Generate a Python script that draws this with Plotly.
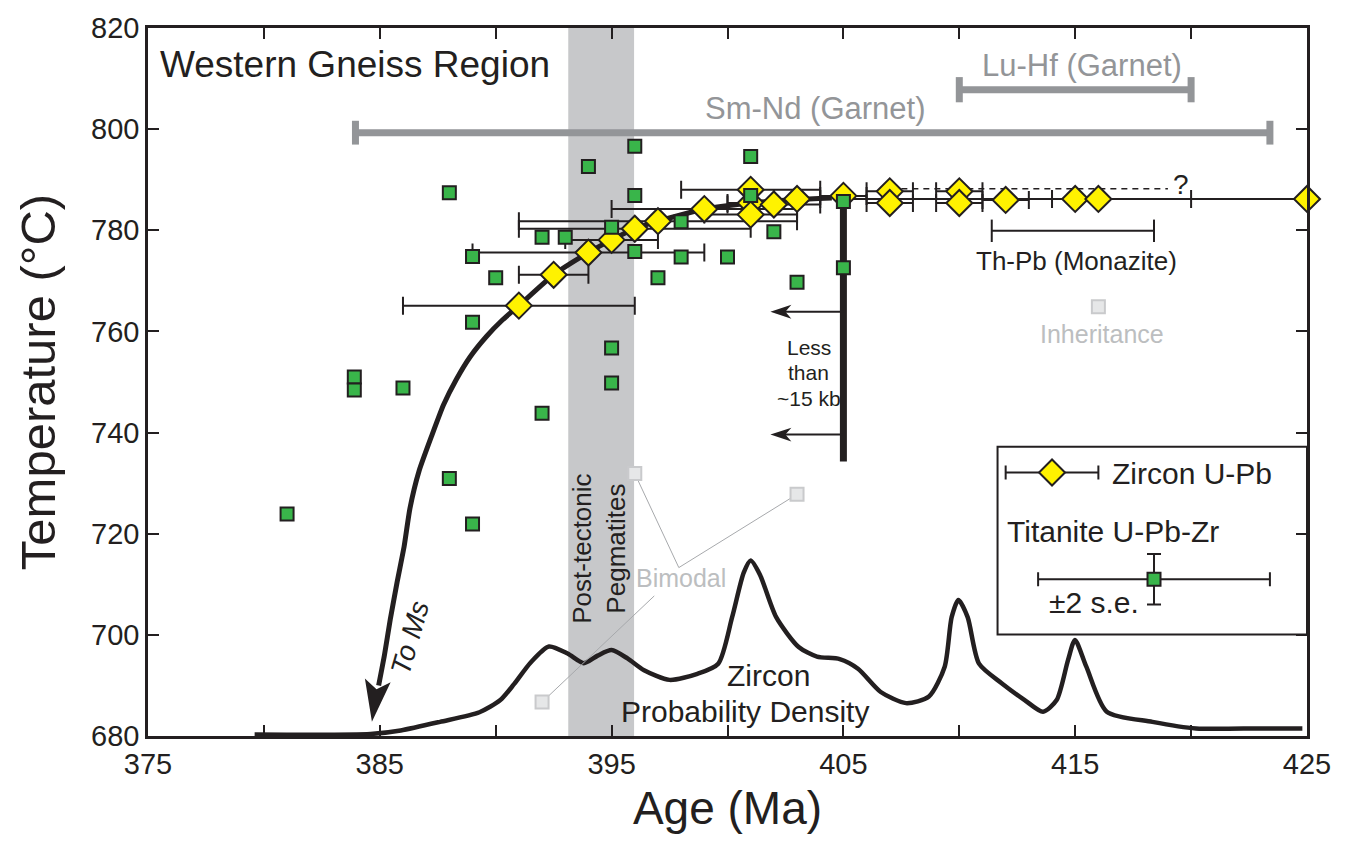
import math
import plotly.graph_objects as go

# ---------------- data ----------------
zircon_age = [391.0, 392.5, 394.0, 395.0, 396.0, 397.0, 399.0, 401.0, 401.0, 401.0,
              402.0, 403.0, 405.0, 407.0, 407.0, 410.0, 410.0, 412.0, 415.0, 416.0, 425.0]
zircon_temp = [765.1, 771.2, 775.6, 778.1, 780.3, 781.8, 784.2, 788.0, 785.4, 783.1,
               785.1, 786.2, 786.8, 787.7, 785.4, 787.7, 785.4, 786.0, 786.2, 786.2, 786.2]
zircon_err = [5.0, 1.5, 5.0, 2.0, 5.0, 6.0, 4.0, 3.0, 1.0, 2.0,
              2.0, 1.0, 1.0, 1.0, 1.0, 1.0, 1.0, 1.0, 1.0, 4.0, 20.0]

titanite_age = [381.0, 383.9, 383.9, 386.0, 388.0, 388.0, 389.0, 389.0, 389.0, 390.0,
                392.0, 392.0, 393.0, 394.0, 395.0, 395.0, 395.0, 396.0, 396.0, 396.0,
                397.0, 398.0, 398.0, 400.0, 401.0, 401.0, 402.0, 403.0, 405.0, 405.0]
titanite_temp = [723.9, 751.0, 748.4, 748.8, 787.4, 730.9, 774.8, 721.9, 761.8, 770.6,
                 778.6, 743.8, 778.6, 792.6, 780.6, 756.7, 749.8, 796.6, 786.9, 775.8,
                 770.6, 781.7, 774.7, 774.7, 794.6, 786.9, 779.7, 769.7, 785.7, 772.6]

# excluded titanite analyses (bimodal / inheritance)
excluded_age = [392.0, 396.0, 403.0, 416.0]
excluded_temp = [686.7, 731.9, 727.8, 764.9]

# T-t path through zircon data ("To Ms")
path_age = [384.95, 385.2, 385.45, 385.75, 386.05, 386.3, 386.7, 387.25, 387.75, 388.3,
            388.9, 389.6, 390.3, 391.0, 392.5, 394.0, 395.0, 396.0, 397.0, 399.0,
            401.0, 403.0, 404.5]
path_temp = [690.0, 696.0, 703.0, 710.5, 717.5, 725.0, 732.5, 739.5, 745.5, 750.5,
             755.0, 759.0, 762.3, 765.1, 771.2, 775.6, 778.1, 780.3, 781.8, 784.2,
             785.4, 786.1, 786.4]

# zircon probability density curve (plotted on temperature scale)
density_age = [379.6, 384.6, 385.9, 387.6, 389.3, 390.2, 390.8, 391.5, 392.3, 393.1,
               393.8, 394.4, 395.0, 395.7, 396.4, 397.5, 398.7, 399.6, 400.2, 400.7,
               401.0, 401.4, 402.1, 403.07, 403.86, 404.84, 405.63, 406.61, 407.7, 408.69,
               409.37, 409.67, 409.96, 410.36, 410.85, 411.84, 412.82, 413.61, 414.2, 414.69,
               414.99, 415.48, 416.36, 418.33, 420.21, 422.96, 424.8]
density_temp = [680.3, 680.4, 681.1, 682.8, 684.7, 687.1, 690.3, 694.5, 697.7, 696.3,
                694.4, 695.9, 697.0, 695.3, 693.0, 691.1, 692.3, 694.3, 703.5, 712.3,
                714.7, 711.9, 703.5, 697.6, 695.7, 695.2, 693.3, 688.7, 686.5, 687.8,
                693.7, 703.5, 706.9, 703.5, 694.3, 690.4, 687.1, 684.8, 687.1, 695.0,
                699.0, 693.7, 684.8, 682.8, 681.5, 681.5, 681.5]

smnd_range = [383.95, 423.4]
smnd_temp = 799.3
luhf_range = [410.0, 420.0]
luhf_temp = 807.8
thpb_range = [411.4, 418.4]
thpb_temp = 779.9
pegmatite_range = [393.13, 395.97]
dashed_range = [407.5, 419.0]
dashed_temp = 788.2
pressure_age = 405.0
pressure_temp = [786.2, 734.3]
arrow_temps = [763.9, 739.6]
arrow_tip_age = 401.85

x_ticks = [375, 385, 395, 405, 415, 425]
y_ticks = [680, 700, 720, 740, 760, 780, 800, 820]
X_RANGE = [375, 425]
Y_RANGE = [680, 820]

# ---------------- style ----------------
DARK = "#231f20"
GREEN = "#39b54a"
YELLOW = "#fff200"
BAR_GRAY = "#939598"
BAND = "#c7c8ca"
LIGHT = "#bcbec0"
FONT = "Liberation Sans, Arial, Helvetica, sans-serif"

W, H = 1346, 860
ML, MR, MT, MB = 148, 39, 24, 124
PW, PH = W - ML - MR, H - MT - MB
SX = PW / (X_RANGE[1] - X_RANGE[0])  # px per Ma
SY = PH / (Y_RANGE[1] - Y_RANGE[0])  # px per deg C


def arrowhead_path(tip_x, tip_y, angle_deg, length, half_w, notch):
    """angle_deg: direction the arrow points, in screen degrees (0 = right, 90 = down)."""
    a = math.radians(angle_deg)
    ux, uy = math.cos(a), math.sin(a)
    px, py = -uy, ux
    pts_px = [(0, 0),
              (-length * ux + half_w * px, -length * uy + half_w * py),
              (-(length - notch) * ux, -(length - notch) * uy),
              (-length * ux - half_w * px, -length * uy - half_w * py)]
    pts = [(tip_x + dx / SX, tip_y - dy / SY) for dx, dy in pts_px]
    return "M " + " L ".join(f"{x:.4f},{y:.4f}" for x, y in pts) + " Z"


fig = go.Figure()

# density curve
fig.add_trace(go.Scatter(x=density_age, y=density_temp, mode="lines",
                         line=dict(color=DARK, width=4.5, shape="spline", smoothing=0.7),
                         hoverinfo="skip"))

# garnet bars
for rng, t, w, sz in [(smnd_range, smnd_temp, 7, 17), (luhf_range, luhf_temp, 7, 18)]:
    fig.add_trace(go.Scatter(x=rng, y=[t, t], mode="lines+markers",
                             line=dict(color=BAR_GRAY, width=w),
                             marker=dict(symbol="line-ns", size=sz,
                                         line=dict(color=BAR_GRAY, width=7)),
                             hoverinfo="skip"))
# monazite bar
fig.add_trace(go.Scatter(x=thpb_range, y=[thpb_temp, thpb_temp], mode="lines+markers",
                         line=dict(color=DARK, width=2),
                         marker=dict(symbol="line-ns", size=16, line=dict(color=DARK, width=2)),
                         hoverinfo="skip"))

# leader lines for bimodal
fig.add_trace(go.Scatter(x=[excluded_age[0], 396.84], y=[excluded_temp[0], 707.7], mode="lines",
                         line=dict(color="#a7a9ac", width=1), hoverinfo="skip"))
fig.add_trace(go.Scatter(x=[excluded_age[1], 397.9, excluded_age[2]],
                         y=[excluded_temp[1], 713.3, excluded_temp[2]], mode="lines",
                         line=dict(color="#a7a9ac", width=1), hoverinfo="skip"))

# excluded squares
fig.add_trace(go.Scatter(x=excluded_age, y=excluded_temp, mode="markers",
                         marker=dict(symbol="square", size=13, color="#e6e7e8",
                                     line=dict(color="#c9cacc", width=2)),
                         hoverinfo="skip"))

# T-t path
fig.add_trace(go.Scatter(x=path_age, y=path_temp, mode="lines",
                         line=dict(color=DARK, width=5, shape="spline", smoothing=0.5),
                         hoverinfo="skip"))

# dashed line
fig.add_trace(go.Scatter(x=dashed_range, y=[dashed_temp, dashed_temp], mode="lines",
                         line=dict(color=DARK, width=1.6, dash="6px,5px"), hoverinfo="skip"))

# pressure bar and arrows shafts
fig.add_trace(go.Scatter(x=[pressure_age, pressure_age], y=pressure_temp, mode="lines",
                         line=dict(color=DARK, width=7), hoverinfo="skip"))
for t in arrow_temps:
    fig.add_trace(go.Scatter(x=[pressure_age, arrow_tip_age + 12 / SX], y=[t, t], mode="lines",
                             line=dict(color=DARK, width=2), hoverinfo="skip"))

# zircon
err_plus = [min(e, X_RANGE[1] - a) for a, e in zip(zircon_age, zircon_err)]
fig.add_trace(go.Scatter(x=zircon_age, y=zircon_temp, mode="markers",
                         marker=dict(symbol="diamond", size=20, color=YELLOW,
                                     line=dict(color=DARK, width=2)),
                         error_x=dict(type="data", array=err_plus, arrayminus=zircon_err,
                                      symmetric=False, color=DARK, thickness=2, width=9),
                         cliponaxis=False, hoverinfo="skip"))

# titanite
fig.add_trace(go.Scatter(x=titanite_age, y=titanite_temp, mode="markers",
                         marker=dict(symbol="square", size=13, color=GREEN,
                                     line=dict(color=DARK, width=2)),
                         cliponaxis=False, hoverinfo="skip"))

# legend glyphs
fig.add_trace(go.Scatter(x=[414.0], y=[732.1], mode="markers",
                         marker=dict(symbol="diamond", size=20, color=YELLOW,
                                     line=dict(color=DARK, width=2)),
                         error_x=dict(type="constant", value=2.0, color=DARK, thickness=2, width=7),
                         hoverinfo="skip"))
fig.add_trace(go.Scatter(x=[418.4], y=[711.0], mode="markers",
                         marker=dict(symbol="square", size=13, color=GREEN,
                                     line=dict(color=DARK, width=2)),
                         error_x=dict(type="constant", value=5.0, color=DARK, thickness=2, width=7),
                         error_y=dict(type="constant", value=5.0, color=DARK, thickness=2, width=7),
                         hoverinfo="skip"))

shapes = [
    dict(type="rect", xref="x", yref="y", x0=pegmatite_range[0], x1=pegmatite_range[1],
         y0=Y_RANGE[0], y1=Y_RANGE[1], fillcolor=BAND, line=dict(width=0), layer="below"),
    dict(type="rect", xref="x", yref="y", x0=411.65, x1=425, y0=700.06, y1=737.2,
         fillcolor="white", line=dict(color=DARK, width=2), layer="below"),
    dict(type="path", xref="x", yref="y",
         path=arrowhead_path(384.66, 682.82, 98.0, 42, 13, 9),
         fillcolor=DARK, line=dict(width=0)),
]
for t in arrow_temps:
    shapes.append(dict(type="path", xref="x", yref="y",
                       path=arrowhead_path(arrow_tip_age, t, 180, 21, 7, 6),
                       fillcolor=DARK, line=dict(width=0)))


def txt(x, y, text, size, color=DARK, xanchor="center", angle=0, italic=False):
    return dict(x=x, y=y, xref="x", yref="y", text=(f"<i>{text}</i>" if italic else text),
                showarrow=False, xanchor=xanchor, yanchor="middle", textangle=angle,
                font=dict(family=FONT, size=size, color=color))


annotations = [
    txt(375.45, 812.8, "Western Gneiss Region", 37, xanchor="left"),
    txt(403.79, 804.0, "Sm-Nd (Garnet)", 31, color=BAR_GRAY),
    txt(415.28, 812.6, "Lu-Hf (Garnet)", 31, color=BAR_GRAY),
    txt(415.06, 774.0, "Th-Pb (Monazite)", 26),
    txt(403.5, 756.9, "Less", 21),
    txt(403.5, 751.9, "than", 21),
    txt(403.5, 746.7, "~15 kb", 21),
    txt(394.45, 717.0, "Post-tectonic<br>Pegmatites", 26, angle=-90),
    txt(398.0, 711.3, "Bimodal", 25, color=LIGHT),
    txt(416.16, 759.4, "Inheritance", 25, color=LIGHT),
    txt(401.76, 692.0, "Zircon", 30),
    txt(400.77, 684.9, "Probability Density", 30),
    txt(386.3, 699.5, "To Ms", 28, angle=-74, italic=True),
    txt(419.55, 789.0, "?", 28),
    txt(416.5, 731.9, "Zircon U-Pb", 30, xanchor="left"),
    txt(411.98, 720.5, "Titanite U-Pb-Zr", 30, xanchor="left"),
    txt(413.8, 706.4, "±2 s.e.", 30, xanchor="left"),
]

axis_common = dict(ticks="inside", ticklen=11, tickwidth=2, tickcolor=DARK,
                   showline=True, linewidth=2.5, linecolor=DARK, mirror="ticks",
                   showgrid=False, zeroline=False,
                   tickfont=dict(family=FONT, size=29, color=DARK))

fig.update_layout(
    width=W, height=H, autosize=False,
    margin=dict(l=ML, r=MR, t=MT, b=MB),
    plot_bgcolor="white", paper_bgcolor="white", showlegend=False,
    xaxis=dict(range=X_RANGE, tickvals=x_ticks, **axis_common,
               minor=dict(dtick=5, tick0=375, ticks="inside", ticklen=11, tickwidth=2,
                          tickcolor=DARK, showgrid=False),
               title=dict(text="Age (Ma)", font=dict(family=FONT, size=46, color=DARK),
                          standoff=14)),
    yaxis=dict(range=Y_RANGE, tickvals=y_ticks, **axis_common,
               title=dict(text="Temperature (°C)", font=dict(family=FONT, size=49, color=DARK),
                          standoff=20)),
    shapes=shapes, annotations=annotations,
)

fig.write_html("out.html")
